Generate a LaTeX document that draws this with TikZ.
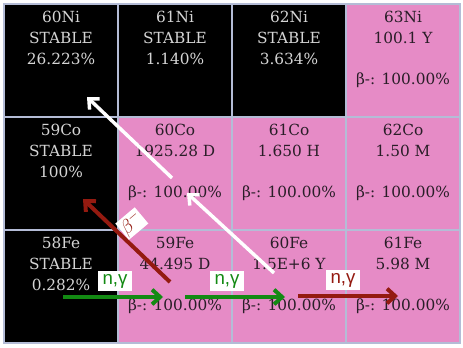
\documentclass[tikz,border=0pt]{standalone}
\usepackage{fontspec}
\setmainfont{DejaVu Serif}
\newfontfamily\reactfont{Liberation Sans}
\usetikzlibrary{arrows.meta, positioning}
\definecolor{cellpink}{HTML}{E68BC6}
\definecolor{gridblue}{HTML}{B4BCD6}
\definecolor{stablegrey}{HTML}{D4D4D4}
\definecolor{decaytext}{HTML}{2A1E28}
\definecolor{capturegreen}{HTML}{138A13}
\definecolor{capturered}{HTML}{941A10}

\begin{document}
\begin{tikzpicture}[x=0.75pt, y=-0.75pt,
                nuclide/.style={draw=gridblue, line width=1.1pt, rectangle, minimum width=85.5pt, minimum height=84.75pt, inner sep=0pt},
                stablecell/.style={nuclide, fill=black},
                decaycell/.style={nuclide, fill=cellpink},
                celllabel/.style={anchor=north, yshift=-6pt, inner sep=0pt, align=center, font=\fontsize{11.5}{15.5}\selectfont},
                stablelabel/.style={celllabel, text=stablegrey},
                decaylabel/.style={celllabel, text=decaytext},
                reaction/.style={line width=3pt, -{Straight Barb[length=6pt, width=11pt]}},
                pathway/.style={white, line width=2.6pt, -{Straight Barb[length=6pt, width=11pt]}},
                reactlabel/.style={fill=white, inner sep=1pt, minimum width=25.5pt, minimum height=15pt, font=\reactfont\fontsize{14}{14}\selectfont},
                betalabel/.style={fill=white, inner sep=1pt, minimum width=17pt, minimum height=14pt, font=\fontsize{14}{14}\selectfont}
            ]

            \path[fill=white, use as bounding box] (0,0) rectangle (463,348);

            % Zellen
            \node[stablecell, label={[stablelabel]north:{60Ni\\STABLE\\26.223\%}}] (ni60) at (61,60.5) {};
            \node[stablecell, label={[stablelabel]north:{61Ni\\STABLE\\1.140\%}}] (ni61) at (175,60.5) {};
            \node[stablecell, label={[stablelabel]north:{62Ni\\STABLE\\3.634\%}}] (ni62) at (289,60.5) {};
            \node[decaycell, label={[decaylabel]north:{63Ni\\100.1 Y\\[15.5pt]β-: 100.00\%}}] (ni63) at (403,60.5) {};

            \node[stablecell, label={[stablelabel]north:{59Co\\STABLE\\100\%}}] (co59) at (61,173.5) {};
            \node[decaycell, label={[decaylabel]north:{60Co\\1925.28 D\\[15.5pt]β-: 100.00\%}}] (co60) at (175,173.5) {};
            \node[decaycell, label={[decaylabel]north:{61Co\\1.650 H\\[15.5pt]β-: 100.00\%}}] (co61) at (289,173.5) {};
            \node[decaycell, label={[decaylabel]north:{62Co\\1.50 M\\[15.5pt]β-: 100.00\%}}] (co62) at (403,173.5) {};

            \node[stablecell, label={[stablelabel]north:{58Fe\\STABLE\\0.282\%}}] (fe58) at (61,286.5) {};
            \node[decaycell, label={[decaylabel]north:{59Fe\\44.495 D\\[15.5pt]β-: 100.00\%}}] (fe59) at (175,286.5) {};
            \node[decaycell, label={[decaylabel]north:{60Fe\\1.5E+6 Y\\[15.5pt]β-: 100.00\%}}] (fe60) at (289,286.5) {};
            \node[decaycell, label={[decaylabel]north:{61Fe\\5.98 M\\[15.5pt]β-: 100.00\%}}] (fe61) at (403,286.5) {};

            % Endpunkte der Pfeile
            \coordinate (cap1s) at (63,297);
            \coordinate (cap1e) at (163,297);
            \coordinate (cap2s) at (185,297);
            \coordinate (cap2e) at (285,297);
            \coordinate (cap3s) at (298,296);
            \coordinate (cap3e) at (398,296);
            \coordinate (decs) at (170,282);
            \coordinate (dece) at (83,199);
            \coordinate (way1s) at (172,178);
            \coordinate (way1e) at (87,97);
            \coordinate (way2s) at (274,273);
            \coordinate (way2e) at (187,193);

            % Pfeile
            \draw[pathway] (way1s) -- (way1e);
            \draw[pathway] (way2s) -- (way2e);
            \draw[reaction, capturered] (decs) -- (dece) node[pos=0.58, anchor=west, rotate=40, outer sep=2.5pt, betalabel] (beta) {$\beta^{-}$};
            \draw[reaction, capturegreen] (cap1s) -- (cap1e) node[pos=0.52, above=3pt, reactlabel] (ng1) {n,γ};
            \draw[reaction, capturegreen] (cap2s) -- (cap2e) node[pos=0.42, above=3pt, reactlabel] (ng2) {n,γ};
            \draw[reaction, capturered] (cap3s) -- (cap3e) node[pos=0.45, above=3pt, reactlabel] (ng3) {n,γ};

        \end{tikzpicture}
\end{document}
